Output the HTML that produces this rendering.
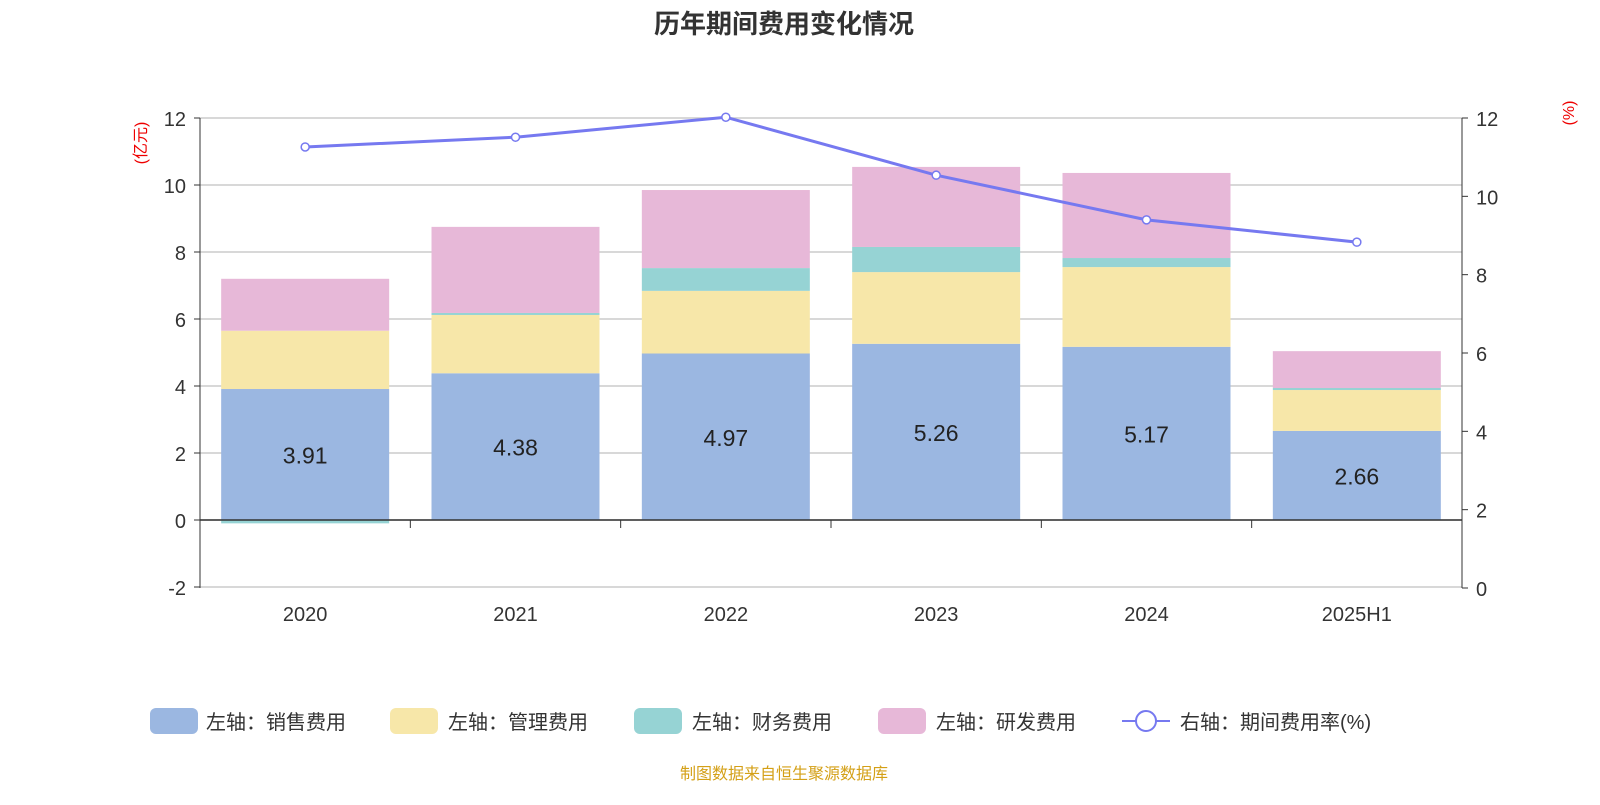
<!DOCTYPE html>
<html><head><meta charset="utf-8"><style>
body{margin:0;background:#fff;width:1600px;height:800px;overflow:hidden;font-family:"Liberation Sans","Noto Sans CJK SC",sans-serif}
</style></head><body>
<svg id="c" width="1600" height="800" xmlns="http://www.w3.org/2000/svg">
<text x="784" y="33" text-anchor="middle" font-size="26" font-weight="bold" fill="#333">历年期间费用变化情况</text>
<text transform="translate(146,143) rotate(-90)" text-anchor="middle" font-size="16" fill="#e00">(亿元)</text>
<text transform="translate(1574,113) rotate(-90)" text-anchor="middle" font-size="16" fill="#e00">(%)</text>
<g id="grid"></g><g id="bars"></g><g id="axes"></g><g id="line"></g>
<g id="legend" font-size="20" fill="#333">
<rect x="150" y="708" width="48" height="26" rx="6" fill="#9bb7e1"/><text x="206" y="729">左轴：销售费用</text>
<rect x="390" y="708" width="48" height="26" rx="6" fill="#f7e7a9"/><text x="448" y="729">左轴：管理费用</text>
<rect x="634" y="708" width="48" height="26" rx="6" fill="#96d3d4"/><text x="692" y="729">左轴：财务费用</text>
<rect x="878" y="708" width="48" height="26" rx="6" fill="#e7b8d8"/><text x="936" y="729">左轴：研发费用</text>
<line x1="1122" y1="721" x2="1170" y2="721" stroke="#7679f0" stroke-width="2"/><circle cx="1146" cy="721" r="10" fill="#fff" stroke="#7679f0" stroke-width="2"/><text x="1180" y="729">右轴：期间费用率(%)</text>
</g>
<text x="784" y="779" text-anchor="middle" font-size="16" fill="#d4a017">制图数据来自恒生聚源数据库</text>
</svg>
<script>
const categories=["2020","2021","2022","2023","2024","2025H1"];
const sales=[3.91,4.38,4.97,5.26,5.17,2.66];
const admin=[1.74,1.74,1.87,2.14,2.38,1.22];
const finance=[-0.1,0.06,0.68,0.75,0.27,0.06];
const rd=[1.55,2.57,2.33,2.39,2.54,1.10];
const rate=[11.26,11.51,12.02,10.54,9.40,8.83];
const leftTicks=[-2,0,2,4,6,8,10,12];
const rightTicks=[0,2,4,6,8,10,12];
const NS="http://www.w3.org/2000/svg";
const X0=200,X1=1462,bw=168;
const step=(X1-X0)/categories.length;
const xc=i=>X0+step*(i+0.5);
const yL=v=>520-(v)*(520-118)/12;
const yR=v=>588-v*(588-118)/12;
function mk(t,a,p){const e=document.createElementNS(NS,t);for(const k in a)e.setAttribute(k,a[k]);document.getElementById(p).appendChild(e);return e;}
leftTicks.forEach(v=>{
 const l=mk('line',{x1:X0,x2:X1,y1:yL(v),y2:yL(v),stroke:'#ccc','stroke-width':1.5},'grid');
 
 
 const t=mk('text',{x:186,y:yL(v)+8,'text-anchor':'end','font-size':20,fill:'#333'},'axes');t.textContent=v;
 
 
 mk('line',{x1:X0-6,x2:X0,y1:yL(v),y2:yL(v),stroke:'#333'},'axes');
});
rightTicks.forEach(v=>{
 const t=mk('text',{x:1476,y:yR(v)+8,'font-size':20,fill:'#333'},'axes');t.textContent=v;
 
 
 mk('line',{x1:X1,x2:X1+6,y1:yR(v),y2:yR(v),stroke:'#333'},'axes');
});
mk('line',{x1:X0,x2:X0,y1:118,y2:588,stroke:'#333'},'axes');
mk('line',{x1:X1,x2:X1,y1:118,y2:588,stroke:'#333'},'axes');
const xa=mk('line',{x1:X0,x2:X1,y1:yL(0),y2:yL(0),stroke:'#333','stroke-width':1.5},'axes');


for(let i=0;i<=categories.length;i++)mk('line',{x1:X0+step*i,x2:X0+step*i,y1:520,y2:528,stroke:'#333'},'axes');
const series=[[sales,'#9bb7e1','bar-sales'],[admin,'#f7e7a9','bar-admin'],[finance,'#96d3d4','bar-finance'],[rd,'#e7b8d8','bar-rd']];
categories.forEach((c,i)=>{
 let pos=0,neg=0;
 series.forEach(([arr,col,nm])=>{
  const v=arr[i];let a,b;
  if(v>=0){a=pos;b=pos+v;pos=b;}else{a=neg;b=neg+v;neg=b;}
  const r=mk('rect',{x:xc(i)-bw/2,y:Math.min(yL(a),yL(b)),width:bw,height:Math.abs(yL(a)-yL(b)),fill:col},'bars');
  
  
 });
 const lb=mk('text',{x:xc(i),y:yL(sales[i]/2)+9,'text-anchor':'middle','font-size':23,fill:'#222'},'bars');lb.textContent=sales[i].toFixed(2);
 
 
 const xl=mk('text',{x:xc(i),y:621,'text-anchor':'middle','font-size':20,fill:'#333'},'axes');xl.textContent=c;
 
 
});
const pl=mk('polyline',{points:rate.map((v,i)=>xc(i)+','+yR(v)).join(' '),fill:'none',stroke:'#7679f0','stroke-width':3},'line');


rate.forEach((v,i)=>{const p=mk('circle',{cx:xc(i),cy:yR(v),r:4,fill:'#fff',stroke:'#7679f0','stroke-width':1.5},'line');
 
 });
</script>
</body></html>
